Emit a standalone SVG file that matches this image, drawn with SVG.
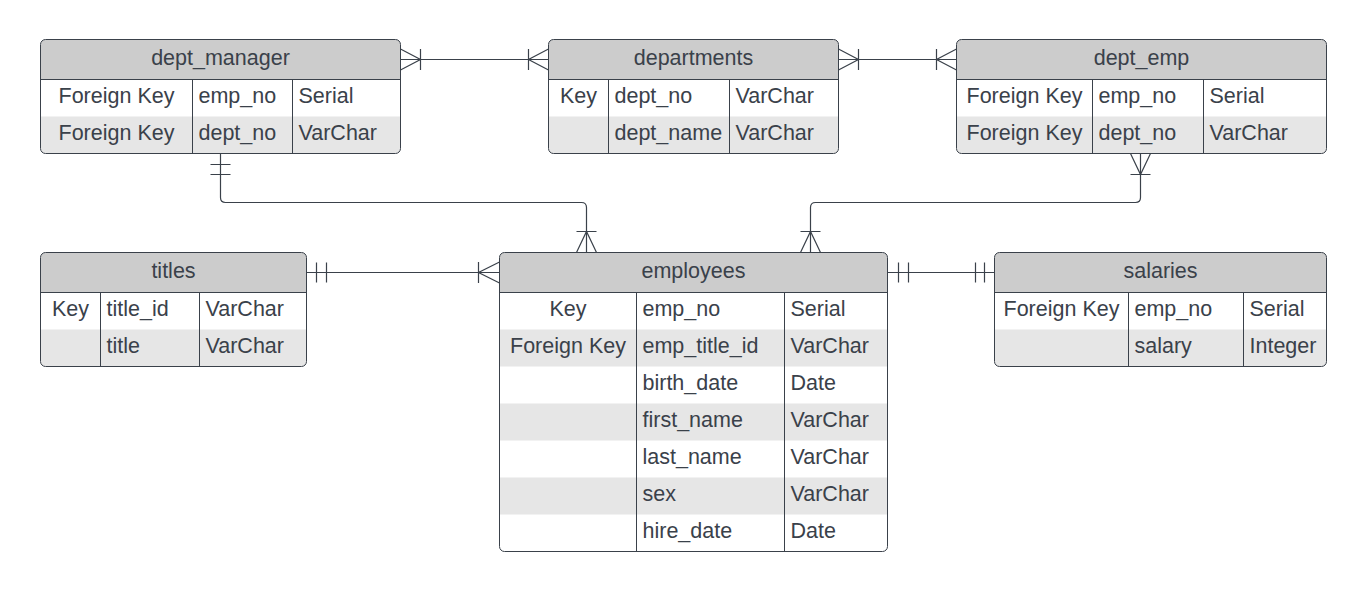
<svg xmlns="http://www.w3.org/2000/svg" width="1366" height="592" viewBox="0 0 1366 592">
<style>
.bg{fill:#ffffff}
.hd{fill:#cccccc}
.st{fill:#e6e6e6}
.ol{fill:none;stroke:#3a414a;stroke-width:1}
.ln{fill:none;stroke:#3a414a;stroke-width:1}
text{font-family:"Liberation Sans",Arial,sans-serif;font-size:21.5px;fill:#3a414a}
.c{text-anchor:middle}
.cn{fill:none;stroke:#3a414a;stroke-width:1.2}
</style>
<defs>
<clipPath id="c1"><rect x="40.5" y="39.5" width="360" height="114" rx="5"/></clipPath>
<clipPath id="c2"><rect x="548.5" y="39.5" width="290" height="114" rx="5"/></clipPath>
<clipPath id="c3"><rect x="956.5" y="39.5" width="370" height="114" rx="5"/></clipPath>
<clipPath id="c4"><rect x="40.5" y="252.5" width="266" height="114" rx="5"/></clipPath>
<clipPath id="c5"><rect x="499.5" y="252.5" width="388" height="299" rx="5"/></clipPath>
<clipPath id="c6"><rect x="994.5" y="252.5" width="332" height="114" rx="5"/></clipPath>
</defs>

<g id="connectors">
<!-- dept_manager - departments -->
<path class="cn" d="M400.5,59.5 H548.5"/>
<path class="cn" d="M400.5,49 L420.5,59.5 L400.5,70 M420.5,49 V70"/>
<path class="cn" d="M548.5,49 L528.5,59.5 L548.5,70 M528.5,49 V70"/>
<!-- departments - dept_emp -->
<path class="cn" d="M838.5,59.5 H956.5"/>
<path class="cn" d="M838.5,49 L858.5,59.5 L838.5,70 M858.5,49 V70"/>
<path class="cn" d="M956.5,49 L936.5,59.5 L956.5,70 M936.5,49 V70"/>
<!-- dept_manager - employees -->
<path class="cn" d="M220.5,153.5 V197.5 Q220.5,202.5 225.5,202.5 H581.5 Q586.5,202.5 586.5,207.5 V252.5"/>
<path class="cn" d="M210.5,164.5 H230.5 M210.5,174.5 H230.5"/>
<path class="cn" d="M576.5,252.5 L586.5,231.5 L596.5,252.5 M576.5,231.5 H596.5"/>
<!-- dept_emp - employees -->
<path class="cn" d="M1140.5,153.5 V197.5 Q1140.5,202.5 1135.5,202.5 H815.5 Q810.5,202.5 810.5,207.5 V252.5"/>
<path class="cn" d="M1130.5,153.5 L1140.5,174.5 L1150.5,153.5 M1130.5,174.5 H1150.5"/>
<path class="cn" d="M800.5,252.5 L810.5,231.5 L820.5,252.5 M800.5,231.5 H820.5"/>
<!-- titles - employees -->
<path class="cn" d="M306.5,272.5 H499.5"/>
<path class="cn" d="M316.5,262.5 V282.5 M326.5,262.5 V282.5"/>
<path class="cn" d="M499.5,262 L478.5,272.5 L499.5,283 M478.5,262 V283"/>
<!-- employees - salaries -->
<path class="cn" d="M887.5,272.5 H994.5"/>
<path class="cn" d="M898.5,262.5 V282.5 M908.5,262.5 V282.5"/>
<path class="cn" d="M975.5,262.5 V282.5 M984.5,262.5 V282.5"/>
</g>

<g id="dept_manager">
<g clip-path="url(#c1)">
<rect class="bg" x="40.5" y="39.5" width="360" height="114"/>
<rect class="hd" x="40.5" y="39.5" width="360" height="40"/>
<rect class="st" x="40.5" y="116.5" width="360" height="37"/>
</g>
<path class="ln" d="M40.5,79.5 H400.5 M192.5,79.5 V153.5 M292.5,79.5 V153.5"/>
<rect class="ol" x="40.5" y="39.5" width="360" height="114" rx="5"/>
<text class="c" x="220.5" y="64.5">dept_manager</text>
<text class="c" x="116.5" y="103">Foreign Key</text>
<text x="198.5" y="103">emp_no</text>
<text x="298.5" y="103">Serial</text>
<text class="c" x="116.5" y="140">Foreign Key</text>
<text x="198.5" y="140">dept_no</text>
<text x="298.5" y="140">VarChar</text>
</g>

<g id="departments">
<g clip-path="url(#c2)">
<rect class="bg" x="548.5" y="39.5" width="290" height="114"/>
<rect class="hd" x="548.5" y="39.5" width="290" height="40"/>
<rect class="st" x="548.5" y="116.5" width="290" height="37"/>
</g>
<path class="ln" d="M548.5,79.5 H838.5 M608.5,79.5 V153.5 M729.5,79.5 V153.5"/>
<rect class="ol" x="548.5" y="39.5" width="290" height="114" rx="5"/>
<text class="c" x="693.5" y="64.5">departments</text>
<text class="c" x="578.5" y="103">Key</text>
<text x="614.5" y="103">dept_no</text>
<text x="735.5" y="103">VarChar</text>
<text x="614.5" y="140">dept_name</text>
<text x="735.5" y="140">VarChar</text>
</g>

<g id="dept_emp">
<g clip-path="url(#c3)">
<rect class="bg" x="956.5" y="39.5" width="370" height="114"/>
<rect class="hd" x="956.5" y="39.5" width="370" height="40"/>
<rect class="st" x="956.5" y="116.5" width="370" height="37"/>
</g>
<path class="ln" d="M956.5,79.5 H1326.5 M1092.5,79.5 V153.5 M1203.5,79.5 V153.5"/>
<rect class="ol" x="956.5" y="39.5" width="370" height="114" rx="5"/>
<text class="c" x="1141.5" y="64.5">dept_emp</text>
<text class="c" x="1024.5" y="103">Foreign Key</text>
<text x="1098.5" y="103">emp_no</text>
<text x="1209.5" y="103">Serial</text>
<text class="c" x="1024.5" y="140">Foreign Key</text>
<text x="1098.5" y="140">dept_no</text>
<text x="1209.5" y="140">VarChar</text>
</g>

<g id="titles">
<g clip-path="url(#c4)">
<rect class="bg" x="40.5" y="252.5" width="266" height="114"/>
<rect class="hd" x="40.5" y="252.5" width="266" height="40"/>
<rect class="st" x="40.5" y="329.5" width="266" height="37"/>
</g>
<path class="ln" d="M40.5,292.5 H306.5 M100.5,292.5 V366.5 M199.5,292.5 V366.5"/>
<rect class="ol" x="40.5" y="252.5" width="266" height="114" rx="5"/>
<text class="c" x="173.5" y="277.5">titles</text>
<text class="c" x="70.5" y="316">Key</text>
<text x="106.5" y="316">title_id</text>
<text x="205.5" y="316">VarChar</text>
<text x="106.5" y="353">title</text>
<text x="205.5" y="353">VarChar</text>
</g>

<g id="employees">
<g clip-path="url(#c5)">
<rect class="bg" x="499.5" y="252.5" width="388" height="299"/>
<rect class="hd" x="499.5" y="252.5" width="388" height="40"/>
<rect class="st" x="499.5" y="329.5" width="388" height="37"/>
<rect class="st" x="499.5" y="403.5" width="388" height="37"/>
<rect class="st" x="499.5" y="477.5" width="388" height="37"/>
</g>
<path class="ln" d="M499.5,292.5 H887.5 M636.5,292.5 V551.5 M784.5,292.5 V551.5"/>
<rect class="ol" x="499.5" y="252.5" width="388" height="299" rx="5"/>
<text class="c" x="693.5" y="277.5">employees</text>
<text class="c" x="568" y="316">Key</text>
<text x="642.5" y="316">emp_no</text>
<text x="790.5" y="316">Serial</text>
<text class="c" x="568" y="353">Foreign Key</text>
<text x="642.5" y="353">emp_title_id</text>
<text x="790.5" y="353">VarChar</text>
<text x="642.5" y="390">birth_date</text>
<text x="790.5" y="390">Date</text>
<text x="642.5" y="427">first_name</text>
<text x="790.5" y="427">VarChar</text>
<text x="642.5" y="464">last_name</text>
<text x="790.5" y="464">VarChar</text>
<text x="642.5" y="501">sex</text>
<text x="790.5" y="501">VarChar</text>
<text x="642.5" y="538">hire_date</text>
<text x="790.5" y="538">Date</text>
</g>

<g id="salaries">
<g clip-path="url(#c6)">
<rect class="bg" x="994.5" y="252.5" width="332" height="114"/>
<rect class="hd" x="994.5" y="252.5" width="332" height="40"/>
<rect class="st" x="994.5" y="329.5" width="332" height="37"/>
</g>
<path class="ln" d="M994.5,292.5 H1326.5 M1128.5,292.5 V366.5 M1243.5,292.5 V366.5"/>
<rect class="ol" x="994.5" y="252.5" width="332" height="114" rx="5"/>
<text class="c" x="1160.5" y="277.5">salaries</text>
<text class="c" x="1061.5" y="316">Foreign Key</text>
<text x="1134.5" y="316">emp_no</text>
<text x="1249.5" y="316">Serial</text>
<text x="1134.5" y="353">salary</text>
<text x="1249.5" y="353">Integer</text>
</g>
</svg>
